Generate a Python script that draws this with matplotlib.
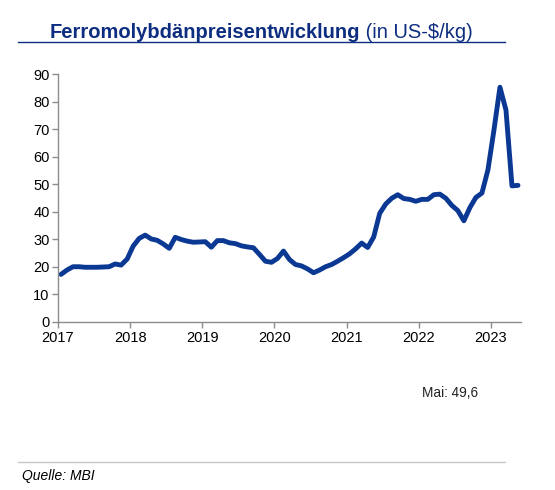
import matplotlib
matplotlib.use("Agg")
import matplotlib.pyplot as plt
from matplotlib.lines import Line2D

plt.rcParams['font.family'] = ['Liberation Sans', 'DejaVu Sans']

# Monthly ferromolybdenum prices (US-$/kg), Jan 2017 .. May 2023
prices_2017 = [17.2, 18.8, 20.0, 20.0, 19.8, 19.8, 19.8, 19.9, 20.0, 21.0, 20.6, 22.8]
prices_2018 = [27.5, 30.3, 31.5, 30.1, 29.6, 28.3, 26.7, 30.7, 29.9, 29.3, 28.9, 29.0]
prices_2019 = [29.1, 27.1, 29.5, 29.5, 28.7, 28.4, 27.6, 27.2, 26.9, 24.5, 22.0, 21.6]
prices_2020 = [23.0, 25.7, 22.6, 20.8, 20.3, 19.2, 17.8, 18.8, 20.0, 20.8, 22.0, 23.3]
prices_2021 = [24.7, 26.5, 28.6, 27.0, 30.8, 39.4, 42.8, 44.9, 46.2, 44.8, 44.5, 43.8]
prices_2022 = [44.5, 44.5, 46.2, 46.4, 44.9, 42.3, 40.4, 36.7, 41.5, 45.2, 46.8, 55.2]
prices_2023 = [69.7, 85.3, 77.0, 49.4, 49.6]

year_labels = ["2017", "2018", "2019", "2020", "2021", "2022", "2023"]
y_ticks = [0, 10, 20, 30, 40, 50, 60, 70, 80, 90]

title_bold = "Ferromolybdänpreisentwicklung"
title_rest = "(in US-$/kg)"
note_text = "Mai: 49,6"
source_text = "Quelle: MBI"

prices = prices_2017 + prices_2018 + prices_2019 + prices_2020 + prices_2021 + prices_2022 + prices_2023
x = [i + 0.5 for i in range(len(prices))]  # mid-month positions

W, H = 555, 490
fig = plt.figure(figsize=(W / 100, H / 100), dpi=100)

line_color = '#0a3892'
title_color = '#0d2e80'
axis_color = '#8c8c8c'

ax = fig.add_axes([58 / W, (H - 321.7) / H, (521 - 58) / W, (321.7 - 74.3) / H])
ax.plot(x, prices, color=line_color, lw=3.5, solid_joinstyle='round', solid_capstyle='round', clip_on=False)
ax.set_xlim(0, 77.0)
ax.set_ylim(0, 90)
ax.set_yticks(y_ticks)
ax.set_yticklabels([str(v) for v in y_ticks])
ax.set_xticks([12 * i for i in range(len(year_labels))])
ax.set_xticklabels(year_labels)
for s in ['top', 'right']:
    ax.spines[s].set_visible(False)
for s in ['left', 'bottom']:
    ax.spines[s].set_color(axis_color)
    ax.spines[s].set_linewidth(1.0)
ax.tick_params(axis='both', colors=axis_color, labelcolor='black', labelsize=10.5, length=4, width=1.0, direction='out')
ax.tick_params(axis='y', pad=2)
ax.tick_params(axis='x', pad=3)

# Title
t1 = fig.text(50 / W, 1 - 32 / H, title_bold, fontsize=14.5, fontweight='bold', color=title_color,
              ha='left', va='center')
ann = plt.annotate(" " + title_rest, xy=(1, 0.5), xycoords=t1, fontsize=14.5, color=title_color,
                   ha='left', va='center', annotation_clip=False)

# Title underline
fig.add_artist(Line2D([18 / W, 505 / W], [1 - 42.5 / H, 1 - 42.5 / H], transform=fig.transFigure,
                      color=title_color, lw=1.0))

# Note
fig.text(478 / W, 1 - 393 / H, note_text, fontsize=9.8, color='#222222', ha='right', va='center')

# Bottom separator and source
fig.add_artist(Line2D([18 / W, 505 / W], [1 - 461.7 / H, 1 - 461.7 / H], transform=fig.transFigure,
                      color='#c8c8c8', lw=1.0))
fig.text(22 / W, 1 - 475.5 / H, source_text, fontsize=10, fontstyle='italic', color='black',
         ha='left', va='center')

fig.savefig("out.png", dpi=100, facecolor='white')
